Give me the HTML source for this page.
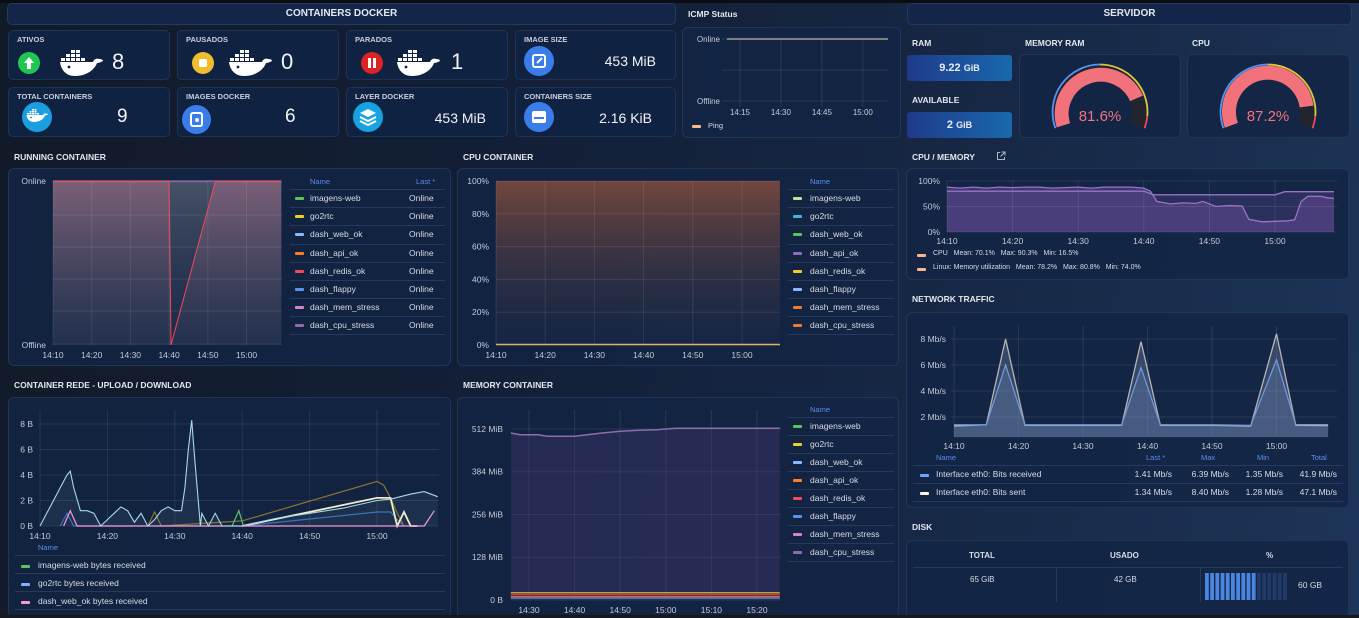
<!DOCTYPE html>
<html style="overflow:hidden;width:1359px;height:618px"><head><meta charset="utf-8">
<style>
*{box-sizing:border-box}
html{overflow:hidden}
body{margin:0;width:1359px;height:618px;overflow:hidden;position:relative;font-family:"Liberation Sans",sans-serif;background:linear-gradient(100deg,#111a27 0%,#13203a 45%,#172a48 75%,#1d3558 100%);color:#dfe3ea}
.abs{position:absolute}
.topbar{position:absolute;left:0;top:0;width:1359px;height:3px;background:#0b0d12}
.hdr{position:absolute;height:22px;border:1px solid #24395e;border-radius:5px;background:#13264a;text-align:center;font-weight:bold;font-size:10px;line-height:20px;color:#e4e8ef}
.card{position:absolute;background:#102242;border:1px solid #1f3357;border-radius:5px}
.lbl{position:absolute;font-size:7.5px;font-weight:bold;color:#c9cfda;left:8px;top:4px}
.num{position:absolute;font-size:22px;color:#f1f3f6}
.val{position:absolute;font-size:14px;color:#f1f3f6;text-align:right}
.circ{position:absolute;border-radius:50%}
.ptitle{position:absolute;font-size:8.5px;font-weight:bold;color:#e2e6ed}
.panel{position:absolute;background:rgba(19,37,68,0.85);border:1px solid #213558;border-radius:6px}
.lg{position:absolute;font-size:8.5px;color:#d7dce5;white-space:nowrap}
.lh{position:absolute;font-size:7.5px;color:#5b8ef0}
.sw{position:absolute;width:9px;height:3px;border-radius:1px}
.sep{position:absolute;height:1px;background:#263a5c}
.ram{position:absolute;height:26px;width:105px;border-radius:3px;background:linear-gradient(90deg,#1e3a8a,#1a68ad);text-align:center;line-height:26px;font-weight:bold;font-size:11px;color:#e8ecf4}
svg text{font-family:"Liberation Sans",sans-serif}
</style></head>
<body>
<svg width="0" height="0" style="position:absolute"><defs>
<symbol id="whale" viewBox="0 0 44 28">
<rect x="12" y="2" width="4" height="3" fill="#fff"/><rect x="17" y="2" width="4" height="3" fill="#fff"/>
<rect x="7" y="6" width="4" height="3" fill="#fff"/><rect x="12" y="6" width="4" height="3" fill="#fff"/><rect x="17" y="6" width="4" height="3" fill="#fff"/>
<rect x="2" y="10" width="4" height="3" fill="#fff"/><rect x="7" y="10" width="4" height="3" fill="#fff"/><rect x="12" y="10" width="4" height="3" fill="#fff"/><rect x="17" y="10" width="4" height="3" fill="#fff"/><rect x="22" y="10" width="4" height="3" fill="#fff"/>
<path d="M1 14 H34 C35 11 38 10 40 11 C43 11 44 12 44 13 C42 14 40 15 38 15 C35 23 26 28 16 28 C7 28 2 22 1 14 Z" fill="#fff"/>
<circle cx="10" cy="19" r="1.4" fill="#102242"/>
</symbol></defs></svg>

<div class="topbar"></div>

<div class="hdr" style="left:7px;top:3px;width:669px">CONTAINERS DOCKER</div>
<div class="hdr" style="left:907px;top:3px;width:445px">SERVIDOR</div>

<div class="card" style="left:8px;top:30px;width:162px;height:50px">
<div class="lbl">ATIVOS</div>
<div class="circ" style="left:9px;top:21px;width:22px;height:22px;background:#1fc653"><svg width="22" height="22"><path d="M11 5 L16 11 H13 V17 H9 V11 H6 Z" fill="#fff"/></svg></div>
<svg class="abs" style="left:50px;top:17px" width="44" height="28"><use href="#whale"/></svg>
<div class="num" style="left:103px;top:18px">8</div></div>

<div class="card" style="left:177px;top:30px;width:162px;height:50px">
<div class="lbl">PAUSADOS</div>
<div class="circ" style="left:14px;top:21px;width:22px;height:22px;background:#f0bd2c"><svg width="22" height="22"><rect x="7" y="7" width="8" height="8" rx="1.5" fill="#fff"/></svg></div>
<svg class="abs" style="left:50px;top:17px" width="44" height="28"><use href="#whale"/></svg>
<div class="num" style="left:103px;top:18px">0</div></div>

<div class="card" style="left:346px;top:30px;width:162px;height:50px">
<div class="lbl">PARADOS</div>
<div class="circ" style="left:14px;top:21px;width:22px;height:22px;background:#dc2323"><svg width="22" height="22"><rect x="7" y="6" width="3" height="10" fill="#fff"/><rect x="12" y="6" width="3" height="10" fill="#fff"/></svg></div>
<svg class="abs" style="left:49px;top:17px" width="44" height="28"><use href="#whale"/></svg>
<div class="num" style="left:104px;top:18px">1</div></div>

<div class="card" style="left:515px;top:30px;width:161px;height:50px">
<div class="lbl">IMAGE SIZE</div>
<div class="circ" style="left:8px;top:15px;width:30px;height:30px;background:#3a7de9"><svg width="30" height="30"><rect x="9" y="9" width="12" height="12" rx="2" fill="none" stroke="#fff" stroke-width="2"/><path d="M13 17 L18 12" stroke="#fff" stroke-width="2"/></svg></div>
<div class="val" style="right:19px;top:22px">453 MiB</div></div>

<div class="card" style="left:8px;top:87px;width:162px;height:50px">
<div class="lbl">TOTAL CONTAINERS</div>
<div class="circ" style="left:13px;top:14px;width:30px;height:30px;background:#1a9ee0"><svg width="30" height="30" style="position:absolute;left:4px;top:6px"><use href="#whale" width="22" height="14"/></svg></div>
<div class="num" style="left:108px;top:18px;font-size:19px">9</div></div>

<div class="card" style="left:177px;top:87px;width:162px;height:50px">
<div class="lbl">IMAGES DOCKER</div>
<div class="circ" style="left:4px;top:17px;width:29px;height:29px;background:#3a7de9"><svg width="29" height="29"><rect x="9" y="8" width="11" height="13" rx="2" fill="none" stroke="#fff" stroke-width="2"/><circle cx="15" cy="15" r="2" fill="#fff"/></svg></div>
<div class="num" style="left:107px;top:18px;font-size:19px">6</div></div>

<div class="card" style="left:346px;top:87px;width:162px;height:50px">
<div class="lbl">LAYER DOCKER</div>
<div class="circ" style="left:6px;top:14px;width:30px;height:30px;background:#16a3e2"><svg width="30" height="30"><path d="M15 7 L23 11 L15 15 L7 11 Z" fill="#fff"/><path d="M7 15 L15 19 L23 15" stroke="#fff" stroke-width="2" fill="none"/><path d="M7 19 L15 23 L23 19" stroke="#fff" stroke-width="2" fill="none"/></svg></div>
<div class="val" style="right:21px;top:22px">453 MiB</div></div>

<div class="card" style="left:515px;top:87px;width:161px;height:50px">
<div class="lbl">CONTAINERS SIZE</div>
<div class="circ" style="left:8px;top:14px;width:30px;height:30px;background:#3a7de9"><svg width="30" height="30"><rect x="8" y="9" width="14" height="12" rx="2" fill="#fff"/><rect x="10" y="15" width="10" height="2" fill="#3a7de9"/></svg></div>
<div class="val" style="right:23px;top:22px">2.16 KiB</div></div>

<div class="ptitle" style="left:688px;top:9px">ICMP Status</div>
<div class="panel" style="left:682px;top:27px;width:219px;height:111px"></div>
<div class="sw" style="left:692px;top:125px;background:#f7b88a"></div>
<div class="lg" style="left:708px;top:121px;font-size:7.5px">Ping</div>

<div class="ptitle" style="left:912px;top:38px">RAM</div>
<div class="ram" style="left:907px;top:55px">9.22 <span style="font-size:9px">GiB</span></div>
<div class="ptitle" style="left:912px;top:95px">AVAILABLE</div>
<div class="ram" style="left:907px;top:112px">2 <span style="font-size:9px">GiB</span></div>
<div class="ptitle" style="left:1025px;top:38px">MEMORY RAM</div>
<div class="panel" style="left:1019px;top:54px;width:162px;height:84px"></div>
<div class="ptitle" style="left:1192px;top:38px">CPU</div>
<div class="panel" style="left:1187px;top:54px;width:163px;height:84px"></div>

<div class="ptitle" style="left:14px;top:152px">RUNNING CONTAINER</div>
<div class="panel" style="left:8px;top:168px;width:443px;height:198px"></div>
<div class="lh" style="left:310px;top:177px">Name</div>
<div class="lh" style="left:416px;top:177px">Last *</div>

<div class="ptitle" style="left:463px;top:152px">CPU CONTAINER</div>
<div class="panel" style="left:457px;top:168px;width:442px;height:198px"></div>
<div class="lh" style="left:810px;top:177px">Name</div>

<div class="ptitle" style="left:912px;top:152px">CPU / MEMORY</div>
<svg class="abs" style="left:996px;top:151px" width="10" height="10"><path d="M4 1.5 H1.5 V8.5 H8.5 V6 M5.5 1 H9 V4.5 M9 1 L4.5 5.5" stroke="#aab4c4" fill="none" stroke-width="1"/></svg>
<div class="panel" style="left:906px;top:168px;width:443px;height:112px"></div>
<div class="sw" style="left:917px;top:254px;background:#f7b88a"></div>
<div class="lg" style="left:933px;top:250px;font-size:7px">CPU&nbsp;&nbsp; Mean: 70.1%&nbsp;&nbsp; Max: 90.3%&nbsp;&nbsp; Min: 16.5%</div>
<div class="sw" style="left:917px;top:268px;background:#f7b88a"></div>
<div class="lg" style="left:933px;top:264px;font-size:7px">Linux: Memory utilization&nbsp;&nbsp; Mean: 78.2%&nbsp;&nbsp; Max: 80.8%&nbsp;&nbsp; Min: 74.0%</div>

<div class="ptitle" style="left:912px;top:294px">NETWORK TRAFFIC</div>
<div class="panel" style="left:906px;top:312px;width:443px;height:196px"></div>
<div class="lh" style="left:936px;top:453px">Name</div>
<div class="lh" style="left:1146px;top:453px">Last *</div>
<div class="lh" style="left:1201px;top:453px">Max</div>
<div class="lh" style="left:1257px;top:453px">Min</div>
<div class="lh" style="left:1311px;top:453px">Total</div>
<div class="sep" style="left:913px;top:465px;width:430px"></div>
<div class="sw" style="left:920px;top:474px;background:#6ea8ff"></div>
<div class="lg" style="left:936px;top:469px">Interface eth0: Bits received</div>
<div class="lg" style="left:1132px;top:469px;width:306px"><span style="position:absolute;right:266px">1.41 Mb/s</span><span style="position:absolute;right:209px">6.39 Mb/s</span><span style="position:absolute;right:155px">1.35 Mb/s</span><span style="position:absolute;right:101px">41.9 Mb/s</span></div>
<div class="sep" style="left:913px;top:483px;width:430px"></div>
<div class="sw" style="left:920px;top:492px;background:#fff3e6"></div>
<div class="lg" style="left:936px;top:487px">Interface eth0: Bits sent</div>
<div class="lg" style="left:1132px;top:487px;width:306px"><span style="position:absolute;right:266px">1.34 Mb/s</span><span style="position:absolute;right:209px">8.40 Mb/s</span><span style="position:absolute;right:155px">1.28 Mb/s</span><span style="position:absolute;right:101px">47.1 Mb/s</span></div>
<div class="sep" style="left:913px;top:501px;width:430px"></div>

<div class="ptitle" style="left:912px;top:522px">DISK</div>
<div class="panel" style="left:906px;top:540px;width:443px;height:78px"></div>
<div class="lg" style="left:969px;top:551px;font-weight:bold;font-size:8px">TOTAL</div>
<div class="lg" style="left:1110px;top:551px;font-weight:bold;font-size:8px">USADO</div>
<div class="lg" style="left:1266px;top:551px;font-weight:bold;font-size:8px">%</div>
<div class="sep" style="left:913px;top:567px;width:430px"></div>
<div class="sep" style="left:1056px;top:568px;width:1px;height:34px"></div>
<div class="sep" style="left:1200px;top:568px;width:1px;height:34px"></div>
<div class="lg" style="left:970px;top:575px;font-size:8px">65 GiB</div>
<div class="lg" style="left:1114px;top:575px;font-size:8px">42 GB</div>
<div class="lg" style="left:1298px;top:580px;font-size:8.5px">60 GB</div>

<div class="ptitle" style="left:14px;top:380px">CONTAINER REDE - UPLOAD / DOWNLOAD</div>
<div class="panel" style="left:8px;top:397px;width:443px;height:221px"></div>
<div class="lh" style="left:38px;top:543px">Name</div>
<div class="sep" style="left:15px;top:555px;width:430px"></div>
<div class="sw" style="left:21px;top:565px;background:#5fc15f"></div>
<div class="lg" style="left:38px;top:560px">imagens-web bytes received</div>
<div class="sep" style="left:15px;top:573px;width:430px"></div>
<div class="sw" style="left:21px;top:583px;background:#7fb0ff"></div>
<div class="lg" style="left:38px;top:578px">go2rtc bytes received</div>
<div class="sep" style="left:15px;top:591px;width:430px"></div>
<div class="sw" style="left:21px;top:601px;background:#f29ad6"></div>
<div class="lg" style="left:38px;top:596px">dash_web_ok bytes received</div>
<div class="sep" style="left:15px;top:609px;width:430px"></div>

<div class="ptitle" style="left:463px;top:380px">MEMORY CONTAINER</div>
<div class="panel" style="left:457px;top:397px;width:442px;height:221px"></div>
<div class="lh" style="left:810px;top:405px">Name</div>

<div class="abs" style="left:290px;top:189px">
<div class="sep" style="left:0;top:0;width:155px"></div>
<div class="sw" style="left:5px;top:8px;background:#5fc15f"></div><div class="lg" style="left:20px;top:4px">imagens-web</div><div class="lg" style="left:119px;top:4px">Online</div>
<div class="sep" style="left:0;top:18px;width:155px"></div>
<div class="sw" style="left:5px;top:26px;background:#f2cc2c"></div><div class="lg" style="left:20px;top:22px">go2rtc</div><div class="lg" style="left:119px;top:22px">Online</div>
<div class="sep" style="left:0;top:36px;width:155px"></div>
<div class="sw" style="left:5px;top:44px;background:#8ab8ff"></div><div class="lg" style="left:20px;top:40px">dash_web_ok</div><div class="lg" style="left:119px;top:40px">Online</div>
<div class="sep" style="left:0;top:55px;width:155px"></div>
<div class="sw" style="left:5px;top:63px;background:#ff7b24"></div><div class="lg" style="left:20px;top:59px">dash_api_ok</div><div class="lg" style="left:119px;top:59px">Online</div>
<div class="sep" style="left:0;top:73px;width:155px"></div>
<div class="sw" style="left:5px;top:81px;background:#f2495c"></div><div class="lg" style="left:20px;top:77px">dash_redis_ok</div><div class="lg" style="left:119px;top:77px">Online</div>
<div class="sep" style="left:0;top:91px;width:155px"></div>
<div class="sw" style="left:5px;top:99px;background:#5794f2"></div><div class="lg" style="left:20px;top:95px">dash_flappy</div><div class="lg" style="left:119px;top:95px">Online</div>
<div class="sep" style="left:0;top:109px;width:155px"></div>
<div class="sw" style="left:5px;top:117px;background:#d683ce"></div><div class="lg" style="left:20px;top:113px">dash_mem_stress</div><div class="lg" style="left:119px;top:113px">Online</div>
<div class="sep" style="left:0;top:127px;width:155px"></div>
<div class="sw" style="left:5px;top:135px;background:#8f6bb0"></div><div class="lg" style="left:20px;top:131px">dash_cpu_stress</div><div class="lg" style="left:119px;top:131px">Online</div>
<div class="sep" style="left:0;top:145px;width:155px"></div>
</div>

<div class="abs" style="left:788px;top:189px">
<div class="sep" style="left:0;top:0;width:106px"></div>
<div class="sw" style="left:5px;top:8px;background:#b9e39a"></div><div class="lg" style="left:22px;top:4px">imagens-web</div>
<div class="sep" style="left:0;top:18px;width:106px"></div>
<div class="sw" style="left:5px;top:26px;background:#43b6d8"></div><div class="lg" style="left:22px;top:22px">go2rtc</div>
<div class="sep" style="left:0;top:36px;width:106px"></div>
<div class="sw" style="left:5px;top:44px;background:#5fc15f"></div><div class="lg" style="left:22px;top:40px">dash_web_ok</div>
<div class="sep" style="left:0;top:55px;width:106px"></div>
<div class="sw" style="left:5px;top:63px;background:#8f6bb0"></div><div class="lg" style="left:22px;top:59px">dash_api_ok</div>
<div class="sep" style="left:0;top:73px;width:106px"></div>
<div class="sw" style="left:5px;top:81px;background:#f2cc2c"></div><div class="lg" style="left:22px;top:77px">dash_redis_ok</div>
<div class="sep" style="left:0;top:91px;width:106px"></div>
<div class="sw" style="left:5px;top:99px;background:#8ab8ff"></div><div class="lg" style="left:22px;top:95px">dash_flappy</div>
<div class="sep" style="left:0;top:109px;width:106px"></div>
<div class="sw" style="left:5px;top:117px;background:#f07a30"></div><div class="lg" style="left:22px;top:113px">dash_mem_stress</div>
<div class="sep" style="left:0;top:127px;width:106px"></div>
<div class="sw" style="left:5px;top:135px;background:#f07a30"></div><div class="lg" style="left:22px;top:131px">dash_cpu_stress</div>
<div class="sep" style="left:0;top:145px;width:106px"></div>
</div>

<div class="abs" style="left:788px;top:417px">
<div class="sep" style="left:0;top:0;width:106px"></div>
<div class="sw" style="left:5px;top:8px;background:#5fc15f"></div><div class="lg" style="left:22px;top:4px">imagens-web</div>
<div class="sep" style="left:0;top:18px;width:106px"></div>
<div class="sw" style="left:5px;top:26px;background:#f2cc2c"></div><div class="lg" style="left:22px;top:22px">go2rtc</div>
<div class="sep" style="left:0;top:36px;width:106px"></div>
<div class="sw" style="left:5px;top:44px;background:#8ab8ff"></div><div class="lg" style="left:22px;top:40px">dash_web_ok</div>
<div class="sep" style="left:0;top:54px;width:106px"></div>
<div class="sw" style="left:5px;top:62px;background:#ff7b24"></div><div class="lg" style="left:22px;top:58px">dash_api_ok</div>
<div class="sep" style="left:0;top:72px;width:106px"></div>
<div class="sw" style="left:5px;top:80px;background:#f2495c"></div><div class="lg" style="left:22px;top:76px">dash_redis_ok</div>
<div class="sep" style="left:0;top:90px;width:106px"></div>
<div class="sw" style="left:5px;top:98px;background:#5794f2"></div><div class="lg" style="left:22px;top:94px">dash_flappy</div>
<div class="sep" style="left:0;top:108px;width:106px"></div>
<div class="sw" style="left:5px;top:116px;background:#d683ce"></div><div class="lg" style="left:22px;top:112px">dash_mem_stress</div>
<div class="sep" style="left:0;top:126px;width:106px"></div>
<div class="sw" style="left:5px;top:134px;background:#8f6bb0"></div><div class="lg" style="left:22px;top:130px">dash_cpu_stress</div>
<div class="sep" style="left:0;top:144px;width:106px"></div>
</div>

<svg id="charts" class="abs" style="left:0;top:0;pointer-events:none" width="1359" height="618">
<defs>
<linearGradient id="gRun" x1="0" y1="0" x2="0" y2="1"><stop offset="0" stop-color="#a86a86" stop-opacity="0.55"/><stop offset="1" stop-color="#3a4560" stop-opacity="0.25"/></linearGradient>
<linearGradient id="gGray" x1="0" y1="0" x2="0" y2="1"><stop offset="0" stop-color="#6a7080" stop-opacity="0.6"/><stop offset="1" stop-color="#3a4560" stop-opacity="0.2"/></linearGradient>
<linearGradient id="gCpu" x1="0" y1="0" x2="0" y2="1"><stop offset="0" stop-color="#8a4f3c" stop-opacity="0.8"/><stop offset="1" stop-color="#1a2a48" stop-opacity="0.3"/></linearGradient>
</defs>
</svg>

<div class="abs" style="left:0;top:615px;width:1359px;height:3px;background:#15171c"></div>

<script>
// ---------- data ----------
const pingT=[10.2,69.2], pingV=[1,1];
const icmpTicks=["14:15","14:30","14:45","15:00"], icmpTickT=[15,30,45,60];
const gaugeLabels=["81.6%","87.2%"], gaugeValues=[81.6,87.2];
const runT=[10,40,40.5,52,69], runRedis=[1,1,0,1,1];
const runOthersT=[10,69], runOthersV=[1,1];
const timeTicks=["14:10","14:20","14:30","14:40","14:50","15:00"], timeTickT=[10,20,30,40,50,60];
const cpuT=[10,67.7], cpuTop=[100,100], cpuSeriesV=[0.3,0.3];
const cpuYTicks=[0,20,40,60,80,100];
const cmT=[10,12,14,16,18,20,22,24,26,28,30,32,34,36,38,40,41,42,44,46,48,49,51,53,55,56,58,60,62,63,64,65,67,68,69];
const cmCpu=[88,86,88,86,88,87,88,88,86,87,88,86,88,88,88,86,80,60,55,57,56,60,50,52,51,25,20,21,22,24,60,70,70,67,66];
const cmMemT=[10,40,41.5,60,61.5,69], cmMem=[80,80,73,73,79,79];
const cmYTicks=[0,50,100];
const nT=[10,15,18,21,30,36,39,42,50,56,60,63,68];
const nRecv=[1.4,1.4,6,1.4,1.4,1.4,5.8,1.4,1.4,1.35,6.4,1.41,1.41];
const nSent=[1.3,1.4,8,1.35,1.35,1.35,7.8,1.35,1.35,1.3,8.4,1.35,1.34];
const nYTicks=[2,4,6,8];
const reT=[10,11,12,13,14,14.5,15,16,17,18,19,20,21,22,23,24,25,26,27,28,29,30,31,31.5,32,32.5,33,33.8,34,35,36,37,38,40,45,50,55,60,62,65,67,69];
const reV=[0,1,2,3,4,4.3,3,1.2,1.2,1,0,0.5,1,1.5,1.2,0.3,1,0,0.5,1.2,1.5,1.2,1.2,3,6,8.3,5,0,1,0,1,0,0,0,0.6,1,1.4,2,2.1,2.5,2.7,2.3];
const reOliveT=[26,27,28,40,60,61,62,63,64], reOlive=[0,1.1,0,0.4,3.5,3.2,2.2,1,0];
const reCreamT=[40,60,62,63,64,65,66], reCream=[0,2.2,2.2,0,1.1,0,0];
const reBlueT=[13,14,15,40,60,62,63,64], reBlue=[0,1,0,0,1.1,1.1,0.5,0];
const reGreenT=[38.5,39.5,40.2], reGreen=[0,1.2,0];
const rePinkT=[13.5,14.5,15.5,67,68.5], rePink=[0,1.2,0,0,1.2];
const reYTicks=[0,2,4,6,8];
const memT=[26,28,32,34,40,46,50,54,58,60,62,85];
const memCpuStress=[500,495,495,490,490,500,505,508,510,512,514,514];
const memSmallT=[26,85];
const memGo2rtc=[22,22], memRedis=[16,16], memApi=[10,10], memFlappy=[6,6];
const memYTicks=[0,128,256,384,512];
const memTicks=["14:30","14:40","14:50","15:00","15:10","15:20"], memTickT=[30,40,50,60,70,80];
const diskUsed=42, diskTotal=65, diskSegments=16;

// ---------- helpers ----------
const NS="http://www.w3.org/2000/svg";
const svg=document.getElementById('charts');
function el(tag,attrs){const e=document.createElementNS(NS,tag);for(const k in attrs)e.setAttribute(k,attrs[k]);svg.appendChild(e);return e;}
function path(ts,vs,X,Y){return ts.map((t,i)=>(i?'L':'M')+X(t).toFixed(1)+' '+Y(vs[i]).toFixed(1)).join(' ');}
function area(ts,vs,X,Y,base){return path(ts,vs,X,Y)+' L'+X(ts[ts.length-1])+' '+base+' L'+X(ts[0])+' '+base+' Z';}
function grid(x0,x1,y0,y1,xs,ys){
  xs.forEach(x=>{const g=el('line',{x1:x,x2:x,y1:y0,y2:y1,stroke:'#ffffff','stroke-opacity':0.09});
    
    });
  ys.forEach(y=>{const g=el('line',{x1:x0,x2:x1,y1:y,y2:y,stroke:'#ffffff','stroke-opacity':0.09});
    
    });
}
function txt(x,y,s,anchor,size,color){const e=el('text',{x:x,y:y,'text-anchor':anchor||'middle','font-size':size||8.5,fill:color||'#c4cad6'});e.textContent=s;return e;}
function line(d,color,w,name){const e=el('path',{d:d,fill:'none',stroke:color,'stroke-width':w||1.2});
  
  return e;}
function fillA(d,fill,name){const e=el('path',{d:d,fill:fill,stroke:'none'});
  
  return e;}

// ---------- ICMP ----------
{const X=t=>740+(t-15)*2.73, Y=v=>101-62*v;
 grid(722,888,39,107,icmpTickT.map(X),[39,70,101]);
 txt(720,42,"Online","end",8);
 txt(720,104,"Offline","end",8);
 icmpTicks.forEach((s,i)=>{const e=txt(X(icmpTickT[i]),115,s,'middle',8);
   });
 line(path(pingT,pingV,X,Y),'#e9d8c8',1,'ping-line');}

// ---------- gauges ----------
function arcD(cx,cy,r,a0,a1){const p=a=>[cx+r*Math.cos(a*Math.PI/180),cy-r*Math.sin(a*Math.PI/180)];
 const s=p(a0),e=p(a1);const large=Math.abs(a0-a1)>180?1:0;
 return `M${s[0].toFixed(1)} ${s[1].toFixed(1)} A${r} ${r} 0 ${large} 1 ${e[0].toFixed(1)} ${e[1].toFixed(1)}`;}
[1100,1268].forEach((cx,i)=>{const cy=112,A0=200,SW=220;
 const av=A0-SW*gaugeValues[i]/100;
 line(arcD(cx,cy,39,A0,A0-SW),'#23252e',14,'gauge-track');
 line(arcD(cx,cy,39,A0,av),'#f2727c',14,'gauge-value-arc');
 line(arcD(cx,cy,47.5,A0,90),'#5794f2',1.8,'gauge-threshold-blue');
 line(arcD(cx,cy,47.5,90,-5),'#e0c63a',1.8,'gauge-threshold-yellow');
 line(arcD(cx,cy,47.5,-5,-20),'#f2495c',1.8,'gauge-threshold-red');
 const t=txt(cx,121,gaugeLabels[i],'middle',15,'#f2727c');
 });

// ---------- running container ----------
{const X=t=>53+(t-10)*3.87, Y=v=>345-v*164;
 fillA(area(runOthersT,runOthersV,X,Y,345),'url(#gGray)','running-others-area');
 fillA(area(runT,runRedis,X,Y,345),'url(#gRun)','running-redis-area');
 grid(53,282,181,345,timeTickT.map(X),[182,215,247,279,311,344]);
 line(path(runOthersT,runOthersV,X,Y),'#8f6bb0',1.2,'running-others-line');
 line(path(runT,runRedis,X,Y),'#f2495c',1,'running-redis-line');
 txt(46,184,"Online","end",8.5);
 txt(46,348,"Offline","end",8.5);
 timeTicks.forEach((s,i)=>{const e=txt(X(timeTickT[i]),358,s);
   });}

// ---------- CPU container ----------
{const X=t=>496+(t-10)*4.92, Y=v=>345-v*1.64;
 fillA(area(cpuT,cpuTop,X,Y,345),'url(#gCpu)','cpu-container-area');
 grid(496,780,181,345,timeTickT.map(X),cpuYTicks.map(Y));
 line(path(cpuT,cpuSeriesV,X,Y),'#e0b060',1.5,'cpu-container-lines');
 cpuYTicks.forEach(v=>{const e=txt(489,Y(v)+3,v+"%","end");
   });
 timeTicks.forEach((s,i)=>{const e=txt(X(timeTickT[i]),358,s);
   });}

// ---------- CPU / memory ----------
{const X=t=>947+(t-10)*6.56, Y=v=>232-v*0.51;
 fillA(area(cmT,cmCpu,X,Y,232),'rgba(110,80,160,0.45)','cpu-area');
 fillA(area(cmMemT,cmMem,X,Y,232),'rgba(110,80,160,0.25)','memory-area');
 grid(947,1337,181,232,timeTickT.map(X),cmYTicks.map(Y));
 line(path(cmT,cmCpu,X,Y),'#9a72c8',1.3,'cpu-line');
 line(path(cmMemT,cmMem,X,Y),'#9a72c8',1.3,'memory-line');
 cmYTicks.forEach(v=>{const e=txt(940,Y(v)+3,v+"%","end",8.5);
   });
 timeTicks.forEach((s,i)=>{const e=txt(X(timeTickT[i]),244,s);
   });}

// ---------- Network ----------
{const X=t=>954+(t-10)*6.45, Y=v=>443-v*13;
 grid(951,1337,326,437,timeTickT.map(X),nYTicks.map(Y));
 fillA(area(nT,nSent,X,Y,Y(0.45)),'rgba(120,135,165,0.35)','sent-area');
 fillA(area(nT,nRecv,X,Y,Y(0.45)),'rgba(110,140,190,0.3)','received-area');
 line(path(nT,nSent,X,Y),'#b8b4b4',1.3,'sent-line');
 line(path(nT,nRecv,X,Y),'#6f98d8',1.3,'received-line');
 nYTicks.forEach(v=>{const e=txt(946,Y(v)+3,v+" Mb/s","end",8.5);
   });
 timeTicks.forEach((s,i)=>{const e=txt(X(timeTickT[i]),449,s);
   });}

// ---------- Container rede ----------
{const X=t=>40+(t-10)*6.74, Y=v=>526-v*12.75;
 grid(40,439,410,526,timeTickT.map(X),reYTicks.map(Y));
 fillA(area(reT,reV,X,Y,526),'rgba(150,200,220,0.08)','rede-main-area');
 line(path(reOliveT,reOlive,X,Y),'#8a7430',1.2,'rede-olive-line');
 line(path(reBlueT,reBlue,X,Y),'#3d6fc0',1.2,'rede-blue-line');
 line(path(reCreamT,reCream,X,Y),'#f3ecc8',1.8,'rede-cream-line');
 line(path(reGreenT,reGreen,X,Y),'#5fc15f',1.2,'rede-green-line');
 line(path(rePinkT,rePink,X,Y),'#f29ad6',1.2,'rede-pink-line');
 line(path(reT,reV,X,Y),'#a8d8e8',1.1,'rede-main-line');
 reYTicks.forEach(v=>{const e=txt(33,Y(v)+3,v+" B","end",8.5);
   });
 timeTicks.forEach((s,i)=>{const e=txt(X(timeTickT[i]),539,s);
   });}

// ---------- Memory container ----------
{const X=t=>529+(t-30)*4.56, Y=v=>600-v*0.334;
 grid(512,781,410,600,memTickT.map(X),memYTicks.map(Y));
 fillA(area(memT,memCpuStress,X,Y,600),'rgba(80,60,120,0.3)','mem-cpu-stress-area');
 line(path(memT,memCpuStress,X,Y),'#8f6bb0',1.5,'mem-cpu-stress-line');
 line(path(memSmallT,memGo2rtc,X,Y),'#c8a030',1.5,'mem-go2rtc-line');
 line(path(memSmallT,memRedis,X,Y),'#c83a3a',1.5,'mem-redis-line');
 line(path(memSmallT,memApi,X,Y),'#e07030',1.2,'mem-api-line');
 line(path(memSmallT,memFlappy,X,Y),'#5794f2',1.2,'mem-flappy-line');
 memYTicks.forEach(v=>{const e=txt(503,Y(v)+3,(v?v+" MiB":"0 B"),"end",8.5);
   });
 memTicks.forEach((s,i)=>{const e=txt(X(memTickT[i]),613,s);
   });}

// ---------- Disk bar ----------
{const lit=Math.round(diskUsed/diskTotal*diskSegments);
 for(let i=0;i<diskSegments;i++){
  const r=el('rect',{x:1205+i*5.2,y:573,width:3.8,height:27,fill:i<lit?'#4a86e0':'#2a4a80','fill-opacity':i<lit?1:0.6});
  
  }}
</script>
</body></html>
